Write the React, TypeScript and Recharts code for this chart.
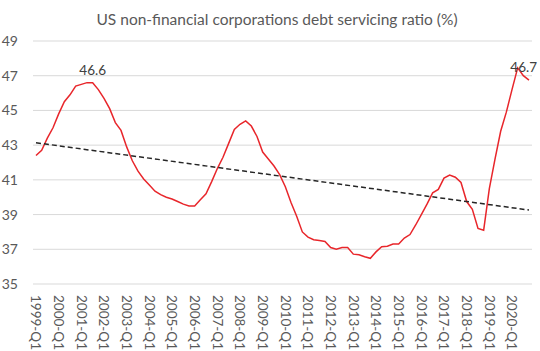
import React from 'react';
import { LineChart, Line, XAxis, YAxis, CartesianGrid } from 'recharts';

const years = [1999, 2000, 2001, 2002, 2003, 2004, 2005, 2006, 2007, 2008, 2009, 2010, 2011, 2012, 2013, 2014, 2015, 2016, 2017, 2018, 2019, 2020];
const quarters = ['Q1', 'Q2', 'Q3', 'Q4'];
const categories = years.flatMap((y) => quarters.map((q) => `${y}-${q}`));

const ratio = [
  42.4, 42.7, 43.4, 44.0, 44.8, 45.5, 45.9, 46.4, 46.5, 46.6, 46.6, 46.2,
  45.7, 45.1, 44.3, 43.85, 42.9, 42.1, 41.5, 41.05, 40.7, 40.35, 40.15, 40.0,
  39.9, 39.75, 39.6, 39.5, 39.5, 39.85, 40.2, 40.9, 41.65, 42.3, 43.1, 43.9,
  44.2, 44.4, 44.1, 43.5, 42.6, 42.2, 41.8, 41.3, 40.6, 39.7, 38.9, 38.0,
  37.7, 37.55, 37.5, 37.45, 37.1, 37.0, 37.1, 37.1, 36.72, 36.68, 36.57, 36.48,
  36.85, 37.15, 37.18, 37.3, 37.3, 37.65, 37.85, 38.4, 39.0, 39.6, 40.25, 40.45,
  41.1, 41.28, 41.15, 40.85, 39.75, 39.3, 38.2, 38.1, 40.5, 42.2, 43.8, 44.9,
  46.2, 47.45, 47.0, 46.75,
];

const trendStart = 43.14;
const trendEnd = 39.26;

const labelIndex = [10, 87];
const labelText = ['46.6', '46.7'];

const yTicks = [35, 37, 39, 41, 43, 45, 47, 49];

const data = categories.map((cat, i) => ({
  cat,
  ratio: ratio[i],
  trend: i === 0 ? trendStart : i === categories.length - 1 ? trendEnd : null,
}));

const FONT = 'Lato, "Open Sans", sans-serif';
const TEXT = '#595959';

const XTick = (props: any) => {
  const { x, y, payload } = props;
  const ty = y + 3;
  return (
    <text
      x={x}
      y={ty}
      dy="0.35em"
      textAnchor="start"
      transform={`rotate(90 ${x} ${ty})`}
      fill={TEXT}
      fontSize={13.5}
      fontFamily={FONT}
    >
      {payload.value}
    </text>
  );
};

const renderLabel = (props: any) => {
  const { x, y, index } = props;
  const k = labelIndex.indexOf(index);
  if (k < 0) return null;
  const isLast = index === categories.length - 1;
  return (
    <text
      key={`lbl-${index}`}
      x={isLast ? x + 8 : x}
      y={y - 8}
      textAnchor={isLast ? 'end' : 'middle'}
      fill="#404040"
      fontSize={13.5}
      fontFamily={FONT}
    >
      {labelText[k]}
    </text>
  );
};

export default function App() {
  return (
    <div style={{ position: 'absolute', left: 0, top: 0, width: 540, height: 351, background: '#fff' }}>
      <div
        style={{
          position: 'absolute',
          left: 0,
          width: 554,
          top: 9,
          textAlign: 'center',
          fontFamily: FONT,
          fontSize: 15.5,
          color: TEXT,
          lineHeight: '20px',
        }}
      >
        US non-financial corporations debt servicing ratio (%)
      </div>
      <LineChart
        width={540}
        height={351}
        data={data}
        margin={{ top: 41, right: 8, left: 0, bottom: 0 }}
      >
        <CartesianGrid vertical={false} stroke="#d9d9d9" />
        <XAxis
          dataKey="cat"
          interval={3}
          tick={<XTick />}
          tickLine={false}
          axisLine={false}
          height={67}
          padding={{ left: 3, right: 3 }}
        />
        <YAxis
          domain={[35, 49]}
          ticks={yTicks}
          width={33}
          tickLine={false}
          axisLine={false}
          tickMargin={9}
          tick={{ fill: TEXT, fontSize: 14, fontFamily: FONT }}
        />
        <Line
          type="linear"
          dataKey="ratio"
          stroke="#e8262b"
          strokeWidth={1.5}
          dot={false}
          isAnimationActive={false}
          label={renderLabel}
        />
        <Line
          type="linear"
          dataKey="trend"
          stroke="#262626"
          strokeWidth={1.5}
          strokeDasharray="5 3"
          dot={false}
          connectNulls
          isAnimationActive={false}
        />
      </LineChart>
    </div>
  );
}
